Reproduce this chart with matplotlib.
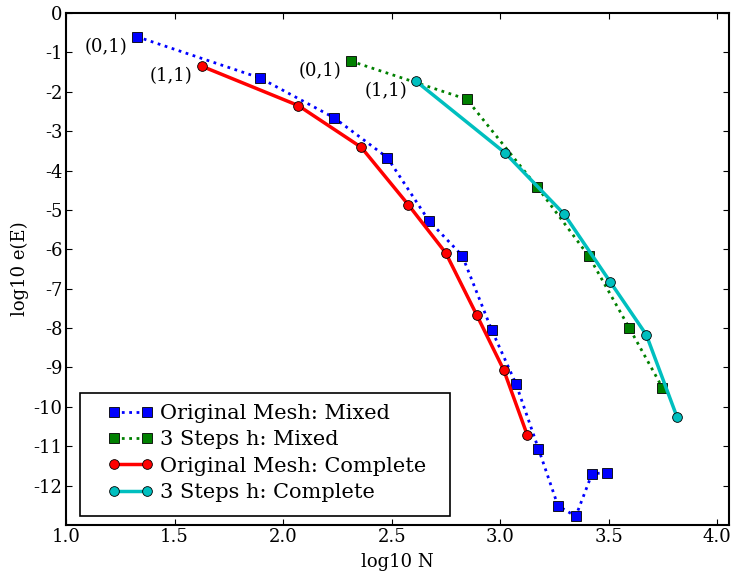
import matplotlib
matplotlib.use("Agg")
import matplotlib.pyplot as plt
from matplotlib.patches import Rectangle

plt.rcParams["font.family"] = ["DejaVu Serif"]
plt.rcParams["axes.unicode_minus"] = False

# Original mesh, mixed
orig_mixed_N = [1.326, 1.894, 2.235, 2.480, 2.671, 2.825, 2.961, 3.073, 3.176, 3.266, 3.348, 3.423, 3.491]
orig_mixed_E = [-0.60, -1.65, -2.66, -3.67, -5.27, -6.16, -8.05, -9.42, -11.06, -12.51, -12.78, -11.70, -11.67]

# 3 steps h, mixed
steps_mixed_N = [2.311, 2.846, 3.171, 3.409, 3.595, 3.747]
steps_mixed_E = [-1.22, -2.19, -4.42, -6.18, -8.00, -9.51]

# Original mesh, complete
orig_complete_N = [1.625, 2.070, 2.360, 2.577, 2.749, 2.893, 3.016, 3.125]
orig_complete_E = [-1.35, -2.35, -3.41, -4.87, -6.09, -7.68, -9.06, -10.72]

# 3 steps h, complete
steps_complete_N = [2.612, 3.022, 3.295, 3.506, 3.673, 3.814]
steps_complete_E = [-1.73, -3.55, -5.11, -6.82, -8.17, -10.25]

fig = plt.figure(figsize=(7.35, 5.76), dpi=100)
ax = fig.add_axes([66 / 735, 1 - 525 / 576, 663 / 735, 512 / 576])

ax.plot(orig_mixed_N, orig_mixed_E, ":", color="b", lw=2, marker="s", ms=7,
        mec="k", mew=0.6, label="Original Mesh: Mixed")
ax.plot(steps_mixed_N, steps_mixed_E, ":", color="g", lw=2, marker="s", ms=7,
        mec="k", mew=0.6, label="3 Steps h: Mixed")
ax.plot(orig_complete_N, orig_complete_E, "-", color="r", lw=2.5, marker="o", ms=7,
        mec="k", mew=0.6, label="Original Mesh: Complete")
ax.plot(steps_complete_N, steps_complete_E, "-", color="c", lw=2.5, marker="o", ms=7,
        mec="k", mew=0.6, label="3 Steps h: Complete")

labels = [
    (orig_mixed_N[0], orig_mixed_E[0], "(0,1)"),
    (orig_complete_N[0], orig_complete_E[0], "(1,1)"),
    (steps_mixed_N[0], steps_mixed_E[0], "(0,1)"),
    (steps_complete_N[0], steps_complete_E[0], "(1,1)"),
]
for x, y, txt in labels:
    ax.annotate(txt, (x, y), xytext=(-9, -1), textcoords="offset pixels",
                ha="right", va="top", fontsize=13)

ax.set_xlim(1.0, 4.054)
ax.set_ylim(-13, 0)
ax.set_xticks([1.0, 1.5, 2.0, 2.5, 3.0, 3.5, 4.0])
ax.set_yticks(range(-12, 1))
ax.tick_params(direction="in", top=True, right=True, labelsize=13, length=4, pad=2.5)
for sp in ax.spines.values():
    sp.set_linewidth(1.5)

ax.set_xlabel("log10 N", fontsize=13, labelpad=5)
ax.set_ylabel("log10 e(E)", fontsize=13, labelpad=3)

# legend box drawn separately so it keeps the wide side padding of the original
ax.add_patch(Rectangle((0.0211, 0.0176), 0.5581, 0.2402, transform=ax.transAxes,
                       facecolor="white", edgecolor="k", lw=1.2, zorder=4))
leg = ax.legend(loc="center", bbox_to_anchor=(0.303, 0.1406), borderaxespad=0,
                borderpad=0, fontsize=15, numpoints=2, frameon=False,
                labelspacing=0.35, handlelength=2.18, handletextpad=0.35)
leg.set_zorder(5)

fig.savefig("out.png", dpi=100)
